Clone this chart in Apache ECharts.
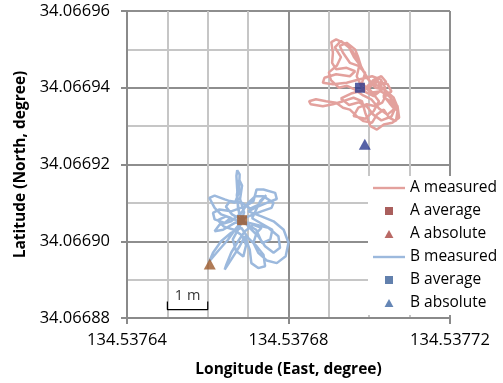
<!DOCTYPE html>
<html>
<head>
<meta charset="utf-8">
<script src="https://cdn.jsdelivr.net/npm/echarts@6/dist/echarts.min.js"></script>
<style>
  html, body { margin: 0; padding: 0; background: #fff; }
  #chart { width: 503px; height: 383px; }
</style>
</head>
<body>
<div id="chart"></div>
<script>
// Axis ranges (degrees)
const lonMin = 134.53764, lonMax = 134.53772, lonStep = 0.00004;
const latMin = 34.06688, latMax = 34.06696, latStep = 0.00002;

// GNSS track of receiver A (longitude, latitude)
const aMeasured = [
  [134.5376994, 34.0669404], [134.5377019, 34.0669422], [134.5377032, 34.0669396], [134.5377011, 34.0669378],
  [134.5376986, 34.0669391], [134.5376969, 34.0669430], [134.5376977, 34.0669465], [134.5376961, 34.0669491],
  [134.5376944, 34.0669513], [134.5376918, 34.0669526], [134.5376906, 34.0669519], [134.5376910, 34.0669491],
  [134.5376908, 34.0669465], [134.5376918, 34.0669448], [134.5376944, 34.0669452], [134.5376965, 34.0669443],
  [134.5376952, 34.0669430], [134.5376918, 34.0669435], [134.5376889, 34.0669426], [134.5376885, 34.0669413],
  [134.5376910, 34.0669409], [134.5376944, 34.0669413], [134.5376977, 34.0669422], [134.5377007, 34.0669430],
  [134.5377028, 34.0669422], [134.5377040, 34.0669400], [134.5377036, 34.0669374], [134.5377053, 34.0669365],
  [134.5377070, 34.0669339], [134.5377066, 34.0669313], [134.5377049, 34.0669322], [134.5377036, 34.0669343],
  [134.5377019, 34.0669330], [134.5377007, 34.0669309], [134.5376986, 34.0669313], [134.5376969, 34.0669326],
  [134.5376952, 34.0669343], [134.5376935, 34.0669348], [134.5376918, 34.0669361], [134.5376893, 34.0669365],
  [134.5376868, 34.0669370], [134.5376851, 34.0669365], [134.5376855, 34.0669357], [134.5376885, 34.0669352],
  [134.5376910, 34.0669357], [134.5376935, 34.0669365], [134.5376961, 34.0669374], [134.5376982, 34.0669365],
  [134.5376990, 34.0669335], [134.5377003, 34.0669300], [134.5377019, 34.0669291], [134.5377036, 34.0669304],
  [134.5377057, 34.0669309], [134.5377074, 34.0669322], [134.5377070, 34.0669352], [134.5377049, 34.0669378],
  [134.5377028, 34.0669391], [134.5377003, 34.0669387], [134.5376982, 34.0669413], [134.5376990, 34.0669439],
  [134.5376973, 34.0669457], [134.5376952, 34.0669465], [134.5376935, 34.0669491], [134.5376927, 34.0669509],
  [134.5376944, 34.0669517], [134.5376965, 34.0669500], [134.5376973, 34.0669478], [134.5376982, 34.0669448],
  [134.5377007, 34.0669409], [134.5377028, 34.0669404], [134.5377045, 34.0669387], [134.5377032, 34.0669361],
  [134.5377015, 34.0669352], [134.5376994, 34.0669357], [134.5376973, 34.0669348], [134.5376961, 34.0669326],
  [134.5376990, 34.0669319], [134.5377011, 34.0669339], [134.5377024, 34.0669365], [134.5376998, 34.0669400],
  [134.5377020, 34.0669415], [134.5377045, 34.0669410], [134.5377055, 34.0669390], [134.5377035, 34.0669380],
  [134.5377050, 34.0669360], [134.5377062, 34.0669345], [134.5377045, 34.0669330], [134.5377025, 34.0669345],
  [134.5377005, 34.0669370], [134.5376985, 34.0669380], [134.5376965, 34.0669395], [134.5376945, 34.0669405],
  [134.5376925, 34.0669400], [134.5376905, 34.0669420], [134.5376900, 34.0669440], [134.5376920, 34.0669458],
  [134.5376930, 34.0669480], [134.5376915, 34.0669505], [134.5376930, 34.0669522], [134.5376950, 34.0669505],
  [134.5376962, 34.0669480], [134.5376980, 34.0669455], [134.5376995, 34.0669425], [134.5377015, 34.0669400],
  [134.5377038, 34.0669395], [134.5377060, 34.0669375], [134.5377068, 34.0669355], [134.5377055, 34.0669325],
  [134.5377030, 34.0669315], [134.5377010, 34.0669330], [134.5376995, 34.0669350], [134.5376975, 34.0669362],
  [134.5376950, 34.0669355], [134.5376930, 34.0669372], [134.5376955, 34.0669385], [134.5376990, 34.0669395],
  [134.5377010, 34.0669420], [134.5377030, 34.0669430], [134.5377042, 34.0669415], [134.5377025, 34.0669405]
];
const aAverage = [134.5376977, 34.0669400];
const aAbsolute = [134.5376989, 34.0669253];

// GNSS track of receiver B (longitude, latitude)
const bMeasured = [
  [134.5376688, 34.0669054], [134.5376675, 34.0669083], [134.5376673, 34.0669135], [134.5376671, 34.0669170],
  [134.5376673, 34.0669185], [134.5376679, 34.0669174], [134.5376677, 34.0669126], [134.5376667, 34.0669100],
  [134.5376642, 34.0669109], [134.5376617, 34.0669119], [134.5376604, 34.0669113], [134.5376617, 34.0669087],
  [134.5376633, 34.0669070], [134.5376658, 34.0669061], [134.5376642, 34.0669048], [134.5376617, 34.0669057],
  [134.5376613, 34.0669074], [134.5376629, 34.0669083], [134.5376658, 34.0669078], [134.5376692, 34.0669091],
  [134.5376713, 34.0669104], [134.5376721, 34.0669135], [134.5376738, 34.0669135], [134.5376767, 34.0669126],
  [134.5376771, 34.0669110], [134.5376746, 34.0669100], [134.5376717, 34.0669087], [134.5376700, 34.0669078],
  [134.5376733, 34.0669065], [134.5376763, 34.0669052], [134.5376788, 34.0669030], [134.5376800, 34.0668996],
  [134.5376793, 34.0668961], [134.5376771, 34.0668943], [134.5376746, 34.0668950], [134.5376725, 34.0668970],
  [134.5376713, 34.0668996], [134.5376721, 34.0669022], [134.5376733, 34.0669035], [134.5376713, 34.0669043],
  [134.5376692, 34.0669026], [134.5376675, 34.0669000], [134.5376658, 34.0668970], [134.5376646, 34.0668939],
  [134.5376642, 34.0668926], [134.5376658, 34.0668952], [134.5376679, 34.0668987], [134.5376692, 34.0669013],
  [134.5376704, 34.0668978], [134.5376708, 34.0668943], [134.5376725, 34.0668930], [134.5376742, 34.0668935],
  [134.5376738, 34.0668965], [134.5376721, 34.0668987], [134.5376700, 34.0669009], [134.5376683, 34.0669035],
  [134.5376658, 34.0669022], [134.5376633, 34.0669000], [134.5376613, 34.0668970], [134.5376604, 34.0668948],
  [134.5376625, 34.0668974], [134.5376650, 34.0669004], [134.5376671, 34.0669035], [134.5376692, 34.0669061],
  [134.5376713, 34.0669070], [134.5376733, 34.0669078], [134.5376758, 34.0669087], [134.5376763, 34.0669100],
  [134.5376738, 34.0669117], [134.5376717, 34.0669117], [134.5376700, 34.0669100], [134.5376683, 34.0669074],
  [134.5376658, 34.0669052], [134.5376629, 34.0669043], [134.5376617, 34.0669026], [134.5376638, 34.0669030],
  [134.5376667, 34.0669048], [134.5376700, 34.0669048], [134.5376750, 34.0669035], [134.5376775, 34.0669013],
  [134.5376779, 34.0668983], [134.5376763, 34.0668970], [134.5376742, 34.0668987], [134.5376725, 34.0669013],
  [134.5376700, 34.0669039], [134.5376688, 34.0669054], [134.5376660, 34.0669070], [134.5376645, 34.0669090],
  [134.5376655, 34.0669105], [134.5376685, 34.0669100], [134.5376705, 34.0669085], [134.5376725, 34.0669095],
  [134.5376745, 34.0669120], [134.5376730, 34.0669105], [134.5376710, 34.0669060], [134.5376735, 34.0669045],
  [134.5376760, 34.0669030], [134.5376755, 34.0669005], [134.5376735, 34.0668995], [134.5376720, 34.0669030],
  [134.5376695, 34.0669045], [134.5376670, 34.0669055], [134.5376645, 34.0669065], [134.5376625, 34.0669055],
  [134.5376640, 34.0669038], [134.5376665, 34.0669030], [134.5376685, 34.0669015], [134.5376695, 34.0668990],
  [134.5376688, 34.0668960], [134.5376670, 34.0668975], [134.5376662, 34.0669005], [134.5376680, 34.0669040],
  [134.5376690, 34.0669075], [134.5376680, 34.0669110], [134.5376685, 34.0669145], [134.5376678, 34.0669160],
  [134.5376672, 34.0669120], [134.5376678, 34.0669070]
];
const bAverage = [134.5376685, 34.0669055];
const bAbsolute = [134.5376605, 34.0668941];

// 1 m scale bracket and its caption
const scaleBar = [[134.53765, 34.0668843], [134.53765, 34.0668822], [134.53766, 34.0668822], [134.53766, 34.0668843]];
const scaleLabelPos = [134.537655, 34.0668858];
const scaleLabel = '1 m';

const seriesNames = ['A measured', 'A average', 'A absolute', 'B measured', 'B average', 'B absolute'];

// legend glyphs: short stroke for tracks, square for averages, triangle for absolute points
const ICON_LINE = 'path://M0,0H32V2.4H0Z';
const ICON_SQUARE = 'path://M0,0H9V9H0Z';
const ICON_TRIANGLE = 'path://M5,0L10,9H0Z';
const legendIcons = [ICON_LINE, ICON_SQUARE, ICON_TRIANGLE, ICON_LINE, ICON_SQUARE, ICON_TRIANGLE];

const FONT = 'Open Sans';
const chart = echarts.init(document.getElementById('chart'), null, { renderer: 'canvas' });

const axisCommon = {
  type: 'value',
  nameLocation: 'middle',
  nameTextStyle: { fontFamily: FONT, fontWeight: 'bold', fontSize: 15.5, color: '#000' },
  axisLine: { show: true, onZero: false, lineStyle: { color: '#8a8a8a', width: 2 } },
  axisTick: { show: true, length: 6, lineStyle: { color: '#8a8a8a', width: 2 } },
  splitLine: { show: true, lineStyle: { color: '#8e8e8e', width: 2 } },
  minorTick: { show: false },
  minorSplitLine: { show: true, lineStyle: { color: '#c6c6c6', width: 2 } }
};

chart.setOption({
  animation: false,
  backgroundColor: '#fff',
  grid: { left: 127, right: 53, top: 11, bottom: 63.5, containLabel: false },
  xAxis: Object.assign({}, axisCommon, {
    min: lonMin, max: lonMax, interval: lonStep,
    name: 'Longitude (East, degree)', nameGap: 44,
    axisLabel: { fontFamily: FONT, fontSize: 16.5, color: '#000', margin: 14, formatter: v => v.toFixed(5) },
    minorTick: { show: false, splitNumber: 4 }
  }),
  yAxis: Object.assign({}, axisCommon, {
    min: latMin, max: latMax, interval: latStep,
    name: 'Latitude (North, degree)', nameGap: 97, nameRotate: 90,
    axisLabel: { fontFamily: FONT, fontSize: 16.5, color: '#000', margin: 17, formatter: v => v.toFixed(5) },
    minorTick: { show: false, splitNumber: 2 }
  }),
  legend: {
    data: seriesNames.map((n, i) => ({ name: n, icon: legendIcons[i] })),
    orient: 'vertical', left: 368, top: 176,
    itemWidth: 32, itemHeight: 8, itemGap: 7,
    symbolKeepAspect: true,
    padding: [4, 4, 4, 5],
    backgroundColor: '#fff',
    textStyle: { fontFamily: FONT, fontSize: 15.5, lineHeight: 15, color: '#000' }
  },
  series: [
    {
      name: seriesNames[0], type: 'line', data: aMeasured, symbol: 'none', z: 2,
      color: '#e3a19d', lineStyle: { color: '#e3a19d', width: 2.5 }
    },
    {
      name: seriesNames[1], type: 'scatter', symbol: 'rect', symbolSize: 10, z: 5,
      itemStyle: { color: '#953735' },
      data: [{ value: aAverage, itemStyle: { color: '#2d3a8c' } }]
    },
    {
      name: seriesNames[2], type: 'scatter', symbol: 'triangle', symbolSize: [12, 11], z: 5,
      itemStyle: { color: '#a8433e' },
      data: [{ value: aAbsolute, itemStyle: { color: '#2b3a90' } }]
    },
    {
      name: seriesNames[3], type: 'line', data: bMeasured, symbol: 'none', z: 2,
      color: '#9cb9dd', lineStyle: { color: '#9cb9dd', width: 2.5 }
    },
    {
      name: seriesNames[4], type: 'scatter', symbol: 'rect', symbolSize: 10, z: 5,
      itemStyle: { color: '#3b6098' },
      data: [{ value: bAverage, itemStyle: { color: '#9b5629' } }]
    },
    {
      name: seriesNames[5], type: 'scatter', symbol: 'triangle', symbolSize: [12, 11], z: 5,
      itemStyle: { color: '#3f68a3' },
      data: [{ value: bAbsolute, itemStyle: { color: '#9c5a2c' } }]
    },
    {
      type: 'line', data: scaleBar, symbol: 'none', silent: true, z: 3,
      lineStyle: { color: '#000', width: 1.2 }
    },
    {
      type: 'scatter', data: [scaleLabelPos], symbolSize: 0, silent: true, z: 3,
      label: {
        show: true, position: 'inside', formatter: scaleLabel,
        fontFamily: FONT, fontSize: 14.5, color: '#000'
      }
    }
  ]
});
</script>
</body>
</html>
